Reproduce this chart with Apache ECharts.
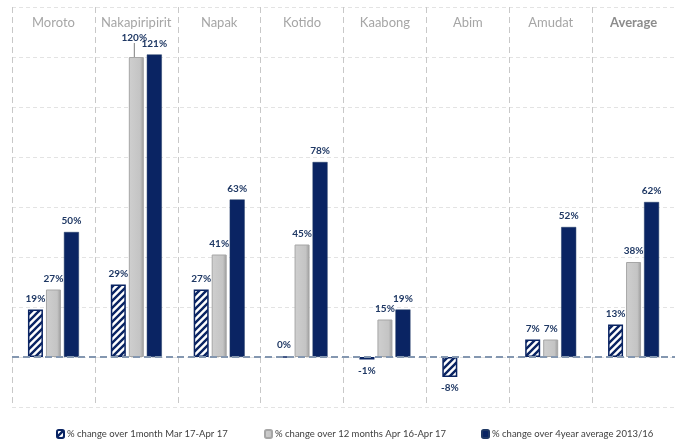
<!DOCTYPE html>
<html>
<head>
<meta charset="utf-8">
<script src="https://cdn.jsdelivr.net/npm/echarts@6/dist/echarts.min.js"></script>
<style>
html,body{margin:0;padding:0;background:#fff;}
#chart{width:675px;height:446px;}
</style>
</head>
<body>
<div id="chart"></div>
<script>
const categories = ['Moroto','Nakapiripirit','Napak','Kotido','Kaabong','Abim','Amudat','Average'];
const seriesNames = [
  '% change over 1month Mar 17-Apr 17',
  '% change over 12 months Apr 16-Apr 17',
  '% change over 4year average 2013/16'
];
const monthChange = [19, 29, 27, 0, -1, -8, 7, 13];
const yearChange = [27, 120, 41, 45, 15, null, 7, 38];
const fourYearChange = [50, 121, 63, 78, 19, null, 52, 62];
const yTicks = {min: -20, max: 140, interval: 20};

const NAVY = '#0a2463';
const FONT = "Lato,'Open Sans',sans-serif";

function hatch() {
  const s = 7;
  const c = document.createElement('canvas');
  c.width = s; c.height = s;
  const g = c.getContext('2d');
  g.fillStyle = '#fff'; g.fillRect(0,0,s,s);
  g.strokeStyle = NAVY; g.lineWidth = 2.4;
  g.beginPath();
  g.moveTo(-1,s+1); g.lineTo(s+1,-1);
  g.moveTo(-2,2); g.lineTo(2,-2);
  g.moveTo(s-2,s+2); g.lineTo(s+2,s-2);
  g.stroke();
  return c;
}
const hatchPattern = {image: hatch(), repeat: 'repeat'};

// negative values get their label below the bar; the crowded Nakapiripirit
// 12-month label is lifted with a leader line as in the reference
function buildData(arr, leaderCat) {
  return arr.map((v, i) => {
    if (v !== null && v < 0) return {value: v, label: {position: 'bottom'}};
    if (leaderCat && categories[i] === leaderCat) return {value: v, labelLine: {show: true}};
    return v;
  });
}

const labelBase = {
  show: true, position: 'top', distance: 6,
  formatter: p => p.value + '%',
  color: '#1f3864', fontWeight: 'bold', fontSize: 10, fontFamily: FONT
};

const chart = echarts.init(document.getElementById('chart'));
chart.setOption({
  animation: false,
  grid: {left: 12, right: -2, top: 7, bottom: 39, containLabel: false},
  legend: [
    {data: [seriesNames[0]], left: 51, bottom: 2},
    {data: [seriesNames[1]], left: 259, bottom: 2},
    {data: [seriesNames[2]], left: 476, bottom: 2}
  ].map(l => Object.assign(l, {
    itemWidth: 7, itemHeight: 8, itemGap: 3,
    textStyle: {fontSize: 9.5, color: '#404040', fontFamily: FONT, padding: [0,0,0,-2]}
  })),
  xAxis: {
    type: 'category', data: categories, position: 'top',
    axisLine: {show: false}, axisTick: {show: false},
    axisLabel: {
      interval: 0, inside: true, margin: 9, fontSize: 13, color: '#a6a6a6', fontFamily: FONT,
      formatter: v => v === 'Average' ? '{b|' + v + '}' : v,
      rich: {b: {fontSize: 13, color: '#8c8c8c', fontWeight: 'bold', fontFamily: FONT}}
    },
    splitLine: {show: true, interval: 0, lineStyle: {color: '#c8c8c8', type: [6, 4], width: 1}}
  },
  yAxis: {
    type: 'value', min: yTicks.min, max: yTicks.max, interval: yTicks.interval,
    axisLabel: {show: false}, axisLine: {show: false}, axisTick: {show: false},
    splitLine: {lineStyle: {color: '#e3e3e3', type: [4, 3]}}
  },
  series: [
    {
      name: seriesNames[0], type: 'bar', data: buildData(monthChange),
      barWidth: 15, barGap: '20%',
      itemStyle: {color: hatchPattern, borderColor: NAVY, borderWidth: 1.5},
      label: labelBase,
      markLine: {
        silent: true, symbol: 'none', label: {show: false},
        lineStyle: {color: '#8497b0', type: [7, 4], width: 2},
        data: [{yAxis: 0}]
      }
    },
    {
      name: seriesNames[1], type: 'bar', data: buildData(yearChange, 'Nakapiripirit'),
      barWidth: 15,
      itemStyle: {
        color: {type: 'linear', x: 0, y: 0, x2: 1, y2: 0, colorStops: [
          {offset: 0, color: '#cfcfcf'}, {offset: 0.75, color: '#c4c4c4'}, {offset: 1, color: '#9a9a9a'}
        ]},
        borderColor: '#a6a6a6', borderWidth: 1
      },
      label: labelBase,
      labelLine: {show: false, lineStyle: {color: '#7f7f7f', width: 1}},
      labelLayout: p => categories[p.dataIndex] === 'Nakapiripirit' ? {dy: -8, dx: -2} : {}
    },
    {
      name: seriesNames[2], type: 'bar', data: buildData(fourYearChange),
      barWidth: 15,
      itemStyle: {color: NAVY, borderColor: '#1f3864', borderWidth: 0.5},
      label: labelBase
    }
  ]
});
</script>
</body>
</html>
